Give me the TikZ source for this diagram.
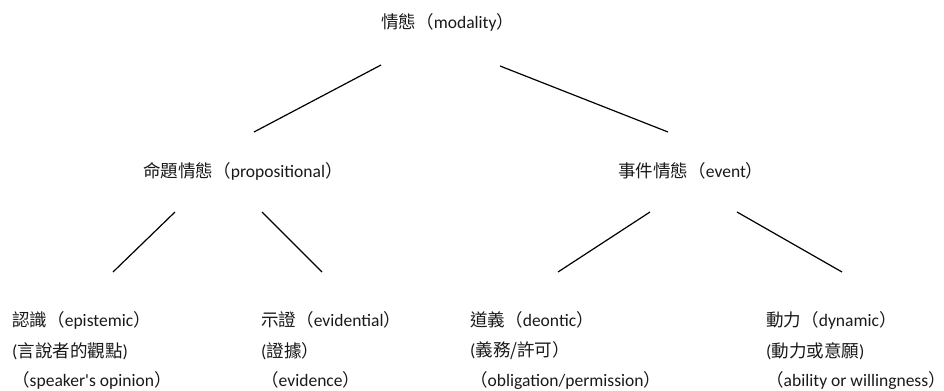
\documentclass[tikz,border=0pt]{standalone}
\usepackage{fontspec}
\setmainfont{Carlito}[Ligatures=TeXOff]
\newfontfamily\cjk{Noto Sans CJK TC}
\newcommand{\zh}[1]{{\cjk #1}}
\begin{document}
\begin{tikzpicture}[x=1bp,y=1bp,
  lbl/.style={inner sep=0pt, font=\fontsize{17.6}{19}\selectfont, text=black!90},
  leaf/.style={lbl, anchor=west},
  conn/.style={line width=1.2bp, black}]
\useasboundingbox (0,0) rectangle (944,390);
% top
\node[lbl, anchor=west] (top) at (381,368) {\zh{情態（}modality\zh{）}};
% middle
\node[lbl, anchor=west] (prop) at (143,219) {\zh{命題情態（}propositional\zh{）}};
\node[lbl, anchor=west] (event) at (618,219) {\zh{事件情態（}event\zh{）}};
% leaves
\node[leaf] (epi1) at (12,70) {\zh{認識（}epistemic\zh{）}};
\node[leaf] (epi2) at (12,39) {(\zh{言說者的觀點})};
\node[leaf] (epi3) at (12,10) {\zh{（}speaker's opinion\zh{）}};
\node[leaf] (evi1) at (261,70) {\zh{示證（}evidential\zh{）}};
\node[leaf] (evi2) at (261,39) {(\zh{證據）}};
\node[leaf] (evi3) at (261,10) {\zh{（}evidence\zh{）}};
\node[leaf] (deo1) at (470,70) {\zh{道義（}deontic\zh{）}};
\node[leaf] (deo2) at (470,39) {(\zh{義務/許可）}};
\node[leaf] (deo3) at (470,10) {\zh{（}obligation/permission\zh{）}};
\node[leaf] (dyn1) at (766,70) {\zh{動力（}dynamic\zh{）}};
\node[leaf] (dyn2) at (766,39) {(\zh{動力或意願})};
\node[leaf] (dyn3) at (766,10) {\zh{（}ability or willingness\zh{）}};
% connector end points
\coordinate (t1) at (381,325);
\coordinate (t2) at (500,324);
\coordinate (p1) at (254,258);
\coordinate (e1) at (668,258);
\coordinate (pa) at (175,178);
\coordinate (pb) at (262,178);
\coordinate (ea) at (650,178);
\coordinate (eb) at (737,178);
\coordinate (l1) at (113,118);
\coordinate (l2) at (322,118);
\coordinate (l3) at (558,118);
\coordinate (l4) at (842,118);
\draw[conn] (t1) -- (p1);
\draw[conn] (t2) -- (e1);
\draw[conn] (pa) -- (l1);
\draw[conn] (pb) -- (l2);
\draw[conn] (ea) -- (l3);
\draw[conn] (eb) -- (l4);
\end{tikzpicture}
\end{document}
